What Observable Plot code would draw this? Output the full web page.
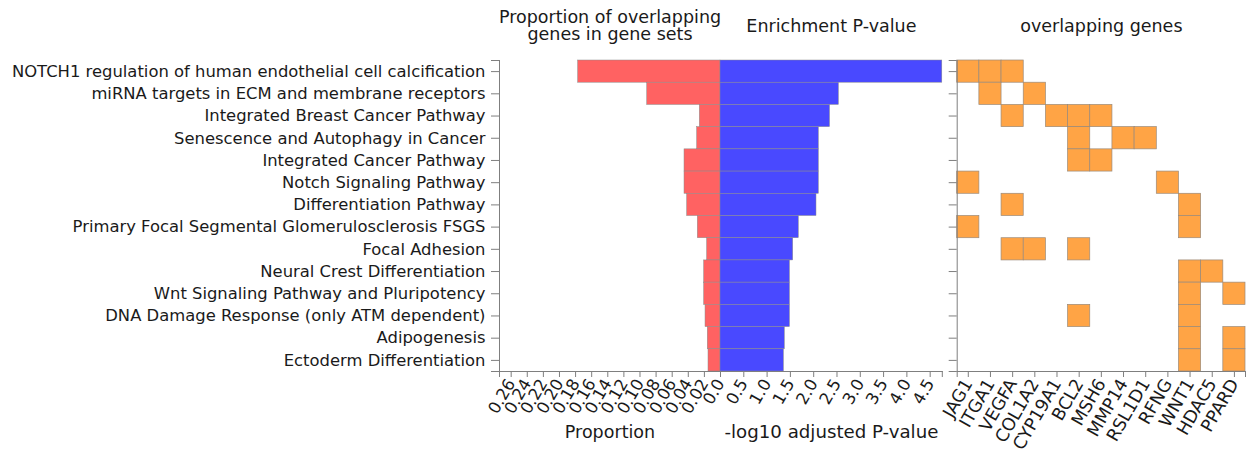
<!DOCTYPE html>
<html>
<head>
<meta charset="utf-8">
<script src="https://cdn.jsdelivr.net/npm/d3@7"></script>
<script src="https://cdn.jsdelivr.net/npm/@observablehq/plot@0.6"></script>
<style>
  body { margin: 0; background: #fff; }
  #chart { position: relative; width: 1248px; height: 451px; font-family: "DejaVu Sans", sans-serif; }
  #chart svg { position: absolute; top: 0; overflow: visible; }
</style>
</head>
<body>
<div id="chart"></div>
<script>
// Enriched pathways, top to bottom
const pathways = [
  "NOTCH1 regulation of human endothelial cell calcification",
  "miRNA targets in ECM and membrane receptors",
  "Integrated Breast Cancer Pathway",
  "Senescence and Autophagy in Cancer",
  "Integrated Cancer Pathway",
  "Notch Signaling Pathway",
  "Differentiation Pathway",
  "Primary Focal Segmental Glomerulosclerosis FSGS",
  "Focal Adhesion",
  "Neural Crest Differentiation",
  "Wnt Signaling Pathway and Pluripotency",
  "DNA Damage Response (only ATM dependent)",
  "Adipogenesis",
  "Ectoderm Differentiation"
];

// Proportion of the gene set covered by the input genes
const proportion = [0.1768, 0.091, 0.0257, 0.029, 0.0447, 0.0447, 0.0414, 0.0282, 0.0166, 0.0203, 0.0203, 0.0186, 0.0158, 0.0149];

// -log10 adjusted P-value
const negLog10P = [4.76, 2.54, 2.35, 2.11, 2.11, 2.11, 2.06, 1.68, 1.56, 1.49, 1.49, 1.49, 1.38, 1.36];

// Gene columns of the overlap matrix
const genes = ["JAG1", "ITGA1", "VEGFA", "COL1A2", "CYP19A1", "BCL2", "MSH6", "MMP14", "RSL1D1", "RFNG", "WNT1", "HDAC5", "PPARD"];

// Genes shared by each pathway
const overlaps = [
  ["JAG1", "ITGA1", "VEGFA"],
  ["ITGA1", "COL1A2"],
  ["VEGFA", "CYP19A1", "BCL2", "MSH6"],
  ["BCL2", "MMP14", "RSL1D1"],
  ["BCL2", "MSH6"],
  ["JAG1", "RFNG"],
  ["VEGFA", "WNT1"],
  ["JAG1", "WNT1"],
  ["VEGFA", "COL1A2", "BCL2"],
  ["WNT1", "HDAC5"],
  ["WNT1", "PPARD"],
  ["BCL2", "WNT1"],
  ["WNT1", "PPARD"],
  ["WNT1", "PPARD"]
];

const proportionTicks = [0, 0.02, 0.04, 0.06, 0.08, 0.10, 0.12, 0.14, 0.16, 0.18, 0.20, 0.22, 0.24, 0.26];
const pTicks = [0, 0.5, 1.0, 1.5, 2.0, 2.5, 3.0, 3.5, 4.0, 4.5];

const rows = pathways.map((name, i) => ({name, i, proportion: proportion[i], p: negLog10P[i]}));
const cells = overlaps.flatMap((list, i) => list.map(g => ({i, g: genes.indexOf(g)})));

const n = pathways.length;
const rowTicks = [0, ...pathways.map((_, i) => i + 0.5), n];
const rowLabel = d => Number.isInteger(d) ? "" : pathways[d - 0.5];

const pMax = 4.76;
const propMax = 0.2745;

const axisColor = "#7f7f7f";
const textColor = "#1a1a1a";
const titleSize = 17.5;
const numberSize = 16.5;

const common = {
  height: 451,
  marginTop: 60,
  marginBottom: 80,
  style: {fontFamily: "DejaVu Sans, sans-serif", background: "transparent", overflow: "visible", color: textColor}
};
const yScale = {domain: [0, n], reverse: true};

const title = (t, dy = -40.5) => Plot.text([t], {frameAnchor: "top", dy, fontSize: titleSize, lineHeight: 0.95, fill: textColor});
const axisTitle = (t, size = titleSize) => Plot.text([t], {frameAnchor: "bottom", dy: 66, fontSize: size, fill: textColor});

// Left panel: proportion bars pointing left
const left = Plot.plot({
  ...common,
  width: 720,
  marginLeft: 499,
  marginRight: 0,
  x: {domain: [0, propMax], reverse: true},
  y: {...yScale, axis: null},
  marks: [
    Plot.rect(rows, {x1: 0, x2: "proportion", y1: "i", y2: d => d.i + 1, fill: "#ff6262", stroke: "#8a8a8a", strokeWidth: 0.5}),
    Plot.frame({anchor: "left", stroke: axisColor}),
    Plot.frame({anchor: "bottom", stroke: axisColor}),
    Plot.axisY({ticks: rowTicks, tickFormat: rowLabel, tickSize: 8, tickPadding: 6, fontSize: 16.4, stroke: axisColor, fill: textColor, label: null}),
    // the shared zero is labelled once, by the middle panel
    Plot.axisX({ticks: [...proportionTicks, propMax], tickFormat: d => (d === propMax || d === 0) ? "" : d.toFixed(2),
      tickSize: 6, tickPadding: 3, tickRotate: -60, fontSize: numberSize, stroke: axisColor, fill: textColor, label: null}),
    axisTitle("Proportion"),
    title("Proportion of overlapping\ngenes in gene sets", -49)
  ]
});

// Middle panel: enrichment significance bars
const middle = Plot.plot({
  ...common,
  width: 232,
  marginLeft: 0,
  marginRight: 232 - 221.8,
  x: {domain: [0, pMax]},
  y: {...yScale, axis: null},
  marks: [
    Plot.rect(rows, {x1: 0, x2: "p", y1: "i", y2: d => d.i + 1, fill: "#4949ff", stroke: "#8a8a8a", strokeWidth: 0.5}),
    Plot.frame({anchor: "bottom", stroke: axisColor}),
    Plot.axisX({ticks: [...pTicks, pMax], tickFormat: d => d === pMax ? "" : d.toFixed(1),
      tickSize: 6, tickPadding: 3, tickRotate: -60, fontSize: numberSize, stroke: axisColor, fill: textColor, label: null}),
    axisTitle("-log10 adjusted P-value", 18.2),
    title("Enrichment P-value")
  ]
});

// Right panel: pathway x gene overlap matrix
const right = Plot.plot({
  ...common,
  width: 298,
  marginLeft: 6.7,
  marginRight: 3,
  x: {domain: [0, genes.length]},
  y: {...yScale},
  marks: [
    Plot.rect(cells, {x1: "g", x2: d => d.g + 1, y1: "i", y2: d => d.i + 1, fill: "#ffa445", stroke: "#9a8a7a", strokeWidth: 0.7}),
    Plot.frame({anchor: "left", stroke: axisColor}),
    Plot.frame({anchor: "bottom", stroke: axisColor}),
    Plot.axisY({ticks: rowTicks, tickFormat: () => "", tickSize: 8, stroke: axisColor, label: null}),
    Plot.axisX({ticks: [0, ...genes.map((_, j) => j + 0.5), genes.length],
      tickFormat: d => Number.isInteger(d) ? "" : genes[d - 0.5],
      tickSize: 6, tickPadding: 3, tickRotate: -60, fontSize: 17.5, stroke: axisColor, fill: textColor, label: null}),
    title("overlapping genes")
  ]
});

const chart = document.getElementById("chart");
left.style.left = "0px";
middle.style.left = "720px";
right.style.left = "950px";
chart.append(left, middle, right);
</script>
</body>
</html>
